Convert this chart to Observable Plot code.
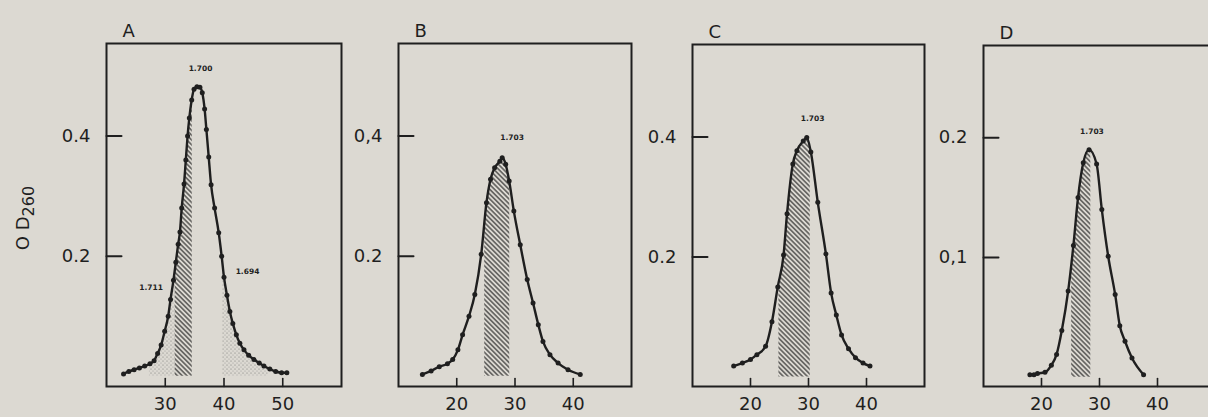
<!DOCTYPE html>
<html>
<head>
<meta charset="utf-8">
<script src="https://cdn.jsdelivr.net/npm/d3@7"></script>
<script src="https://cdn.jsdelivr.net/npm/@observablehq/plot@0.6"></script>
<style>
  html, body { margin: 0; padding: 0; background: #dcd9d2; overflow: hidden; }
  #chart { position: relative; width: 1208px; height: 417px; overflow: hidden; background: #dcd9d2; }
  #chart svg { position: absolute; top: 0; }
  #ylab { position: absolute; left: 25px; top: 218px; transform: translate(-50%, -50%) rotate(-90deg);
          font-family: "DejaVu Sans", sans-serif; font-size: 18px; color: #1f1f1f; white-space: nowrap; }
  #ylab sub { font-size: 16px; }
</style>
</head>
<body>
<div id="chart"><div id="ylab">O D<sub>260</sub></div></div>
<script>
// ---------- data ----------
const panelNames = ["A", "B", "C", "D"];

// Panel A: buoyant density profile (fraction number vs OD260)
const xA = [22.9, 23.8, 24.7, 25.6, 26.5, 27.4, 28.1, 28.7, 29.3, 29.9, 30.5, 30.9, 31.4, 31.8, 32.2, 32.5, 32.8, 33.2, 33.5, 33.8, 34.1, 34.5, 34.9, 35.4, 35.9, 36.3, 36.7, 37.0, 37.4, 37.8, 38.4, 39.1, 39.6, 40.0, 40.5, 41.0, 41.5, 42.1, 42.7, 43.4, 44.2, 45.1, 46.0, 46.8, 47.8, 48.8, 49.8, 50.7];
const yA = [0.004, 0.008, 0.011, 0.014, 0.017, 0.021, 0.026, 0.038, 0.052, 0.075, 0.100, 0.128, 0.160, 0.190, 0.220, 0.240, 0.280, 0.320, 0.360, 0.400, 0.430, 0.460, 0.478, 0.482, 0.481, 0.472, 0.445, 0.411, 0.365, 0.319, 0.280, 0.239, 0.200, 0.165, 0.135, 0.108, 0.088, 0.069, 0.055, 0.044, 0.035, 0.028, 0.022, 0.017, 0.012, 0.008, 0.006, 0.006];

// Panel B
const xB = [14.1, 15.6, 17.0, 18.4, 19.3, 20.2, 21.0, 22.1, 23.1, 24.2, 25.1, 25.8, 26.5, 27.4, 27.8, 28.4, 29.0, 29.8, 30.9, 32.1, 33.1, 34.0, 34.8, 36.0, 37.4, 39.1, 41.2];
const yB = [0.003, 0.009, 0.016, 0.021, 0.028, 0.044, 0.069, 0.100, 0.136, 0.203, 0.289, 0.328, 0.347, 0.358, 0.364, 0.353, 0.325, 0.275, 0.219, 0.161, 0.122, 0.086, 0.058, 0.036, 0.022, 0.011, 0.003];

// Panel C
const xC = [17.1, 18.6, 20.0, 21.1, 22.6, 23.7, 24.7, 25.7, 26.3, 27.3, 28.0, 29.1, 29.7, 30.4, 31.6, 33.0, 33.9, 34.8, 35.7, 36.9, 38.1, 39.4, 40.6];
const yC = [0.018, 0.023, 0.029, 0.037, 0.051, 0.092, 0.150, 0.203, 0.272, 0.355, 0.377, 0.393, 0.399, 0.375, 0.291, 0.205, 0.140, 0.103, 0.070, 0.047, 0.032, 0.023, 0.018];

// Panel D
const xD = [18.0, 18.7, 19.3, 20.6, 21.7, 22.6, 23.5, 24.6, 25.5, 26.3, 27.2, 28.2, 29.5, 30.4, 31.5, 32.7, 33.5, 34.4, 35.6, 37.6];
const yD = [0.002, 0.002, 0.003, 0.004, 0.010, 0.019, 0.039, 0.072, 0.110, 0.150, 0.179, 0.190, 0.178, 0.140, 0.101, 0.069, 0.043, 0.030, 0.016, 0.002];

// axis ticks and labels (as lettered in the original)
const xTicksA = [30, 40, 50], xTicksB = [20, 30, 40], xTicksC = [20, 30, 40], xTicksD = [20, 30, 40];
const yTicksA = [0.2, 0.4], yTicksB = [0.2, 0.4], yTicksC = [0.2, 0.4], yTicksD = [0.1, 0.2];
const yTickLabelsA = ["0.2", "0.4"], yTickLabelsB = ["0.2", "0,4"], yTickLabelsC = ["0.2", "0.4"], yTickLabelsD = ["0,1", "0.2"];

// hatched (main band) and stippled (satellite bands) fraction ranges
const hatchA = [31.7, 34.6], hatchB = [24.8, 29.1], hatchC = [24.9, 30.3], hatchD = [25.2, 28.5];
const stippleA = [[27.3, 31.7], [39.8, 47.5]];

// density annotations
const noteTextA = ["1.700", "1.711", "1.694"], noteXA = [36.0, 27.6, 44.0], noteYA = [0.513, 0.147, 0.175];
const noteTextB = ["1.703"], noteXB = [29.5], noteYB = [0.397];
const noteTextC = ["1.703"], noteXC = [30.7], noteYC = [0.431];
const noteTextD = ["1.703"], noteXD = [28.7], noteYD = [0.205];

// ---------- layout ----------
const ink = "#1f1f1f";
const layout = [
  {left: 106, right: 341, top: 43, xDomain: [20, 60], yDomain: [-0.017, 0.554]},
  {left: 398, right: 631, top: 43, xDomain: [10, 50], yDomain: [-0.017, 0.554]},
  {left: 692, right: 924, top: 44, xDomain: [10, 50], yDomain: [-0.016, 0.554]},
  {left: 983, right: 1215, top: 45, xDomain: [10, 50], yDomain: [-0.0078, 0.277]}
];
const series = [
  {xs: xA, ys: yA, xt: xTicksA, yt: yTicksA, yl: yTickLabelsA, hatch: hatchA, stipple: stippleA, nt: noteTextA, nx: noteXA, ny: noteYA},
  {xs: xB, ys: yB, xt: xTicksB, yt: yTicksB, yl: yTickLabelsB, hatch: hatchB, stipple: [], nt: noteTextB, nx: noteXB, ny: noteYB},
  {xs: xC, ys: yC, xt: xTicksC, yt: yTicksC, yl: yTickLabelsC, hatch: hatchC, stipple: [], nt: noteTextC, nx: noteXC, ny: noteYC},
  {xs: xD, ys: yD, xt: xTicksD, yt: yTicksD, yl: yTickLabelsD, hatch: hatchD, stipple: [], nt: noteTextD, nx: noteXD, ny: noteYD}
];

const ns = "http://www.w3.org/2000/svg";
function el(tag, attrs, parent) {
  const e = document.createElementNS(ns, tag);
  for (const k in attrs) e.setAttribute(k, attrs[k]);
  if (parent) parent.appendChild(e);
  return e;
}

// area under the curve between two fractions, filled with a hatch or stipple pattern
function patternFill(xs, ys, range, kind, id) {
  return (index, scales, values, dims) => {
    const g = el("g", {});
    const defs = el("defs", {}, g);
    if (kind === "hatch") {
      const p = el("pattern", {id: id + "-p", patternUnits: "userSpaceOnUse", width: 3.4, height: 3.4, patternTransform: "rotate(-45)"}, defs);
      el("line", {x1: 1.7, y1: 0, x2: 1.7, y2: 3.4, stroke: ink, "stroke-width": 1.05}, p);
    } else {
      const p = el("pattern", {id: id + "-p", patternUnits: "userSpaceOnUse", width: 4, height: 4}, defs);
      el("circle", {cx: 1, cy: 1, r: 0.55, fill: "#6d6d6d"}, p);
      el("circle", {cx: 3, cy: 3, r: 0.5, fill: "#8a8a8a"}, p);
    }
    const clip = el("clipPath", {id: id + "-c"}, defs);
    const x0 = scales.x(range[0]), x1 = scales.x(range[1]);
    el("rect", {x: x0, y: 0, width: x1 - x0, height: dims.height}, clip);
    const area = d3.area().curve(d3.curveMonotoneX)
      .x((_, i) => scales.x(xs[i]))
      .y0(scales.y(0))
      .y1((_, i) => scales.y(ys[i]));
    el("path", {d: area(xs), fill: `url(#${id}-p)`, "clip-path": `url(#${id}-c)`}, g);
    return g;
  };
}

// straight tick segment used for inward-pointing ticks
const tickShape = {draw(context, l) { context.moveTo(0, 0); context.lineTo(0, -l); }};

const chart = document.getElementById("chart");
layout.forEach((L, k) => {
  const S = series[k];
  const data = S.xs.map((x, i) => ({x, y: S.ys[i]}));
  const notes = S.nt.map((t, i) => ({t, x: S.nx[i], y: S.ny[i]}));
  const labelOf = new Map(S.yt.map((v, i) => [v, S.yl[i]]));
  const w = L.right - L.left;
  const marks = [];
  S.stipple.forEach((r, j) => marks.push(patternFill(S.xs, S.ys, r, "stipple", `st${k}${j}`)));
  marks.push(patternFill(S.xs, S.ys, S.hatch, "hatch", `ht${k}`));
  marks.push(
    Plot.frame({stroke: ink, strokeWidth: 2}),
    Plot.vector(S.yt, {x: L.xDomain[0], y: d => d, length: 15, rotate: 90, anchor: "start", shape: tickShape, stroke: ink, strokeWidth: 2}),
    Plot.vector(S.xt, {x: d => d, y: L.yDomain[0], length: 8, rotate: 0, anchor: "start", shape: tickShape, stroke: ink, strokeWidth: 1.6}),
    Plot.axisY(S.yt, {anchor: "left", tickSize: 0, tickPadding: 16, tickFormat: d => labelOf.get(d), fontSize: 18, label: null}),
    Plot.axisX(S.xt, {anchor: "bottom", tickSize: 0, tickPadding: 11, fontSize: 18, label: null}),
    Plot.line(data, {x: "x", y: "y", curve: "monotone-x", stroke: ink, strokeWidth: 2.4}),
    Plot.dot(data, {x: "x", y: "y", r: 2.5, fill: ink}),
    Plot.text(notes, {x: "x", y: "y", text: "t", fontSize: 7.5, fontWeight: "bold", fill: ink}),
    Plot.text([panelNames[k]], {frameAnchor: "top-left", dx: 16, dy: -7, lineAnchor: "bottom", fontSize: 18, fill: ink})
  );
  const plot = Plot.plot({
    width: w + 104,
    height: 417,
    marginLeft: 100,
    marginRight: 4,
    marginTop: L.top,
    marginBottom: 31,
    x: {domain: L.xDomain, label: null},
    y: {domain: L.yDomain, label: null},
    style: {background: "transparent", color: ink, fontFamily: "DejaVu Sans, sans-serif", overflow: "visible"},
    marks
  });
  plot.style.left = (L.left - 100) + "px";
  chart.appendChild(plot);
});
</script>
</body>
</html>
